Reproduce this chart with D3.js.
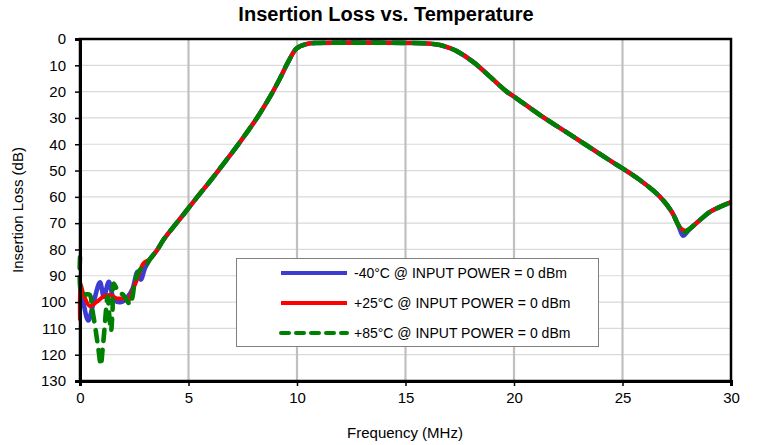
<!DOCTYPE html>
<html>
<head>
<meta charset="utf-8">
<script src="https://cdn.jsdelivr.net/npm/d3@7"></script>
<style>
  html, body { margin: 0; padding: 0; background: #fff; }
  svg { display: block; font-family: "Liberation Sans", Arial, sans-serif; }
</style>
</head>
<body>
<svg id="chart" width="758" height="445"></svg>
<script>
// ---- Data ----
const xTicks = [0, 5, 10, 15, 20, 25, 30];
const yTicks = [0, 10, 20, 30, 40, 50, 60, 70, 80, 90, 100, 110, 120, 130];

// shared smooth part of the response (frequency MHz, insertion loss dB)
const mainFreq = [3.23, 3.53, 3.84, 4.3, 4.76, 5.38, 6.0, 6.45, 7.0, 7.37, 8.14, 8.76, 9.22, 9.6, 9.98, 10.45, 11, 12, 13, 14, 15, 16, 16.59, 17.05, 17.36, 18.1, 18.89, 19.66, 20, 21.2, 22.73, 24.27, 25, 25.8, 26.73, 27.27, 27.57];
const mainLoss = [83.6, 80.5, 76.4, 71.5, 66.8, 60.3, 54, 49.2, 43.3, 39.2, 30.2, 21.9, 14.9, 8.6, 3.6, 1.9, 1.5, 1.4, 1.4, 1.4, 1.5, 1.7, 2.3, 3.5, 4.6, 8.6, 14.3, 20, 21.9, 28.9, 37.1, 45.4, 49.2, 53.6, 60, 65.7, 70.7];

// tail after the notch
const tailFreq = [28.57, 29.03, 29.49, 30];
const tailLoss = [68.8, 65.7, 63.8, 62];

// low-frequency (noisy) part per temperature
const lowFreqM40 = [0, 0.1, 0.38, 0.6, 0.92, 1.1, 1.33, 1.58, 1.9, 2.2, 2.42, 2.65, 2.8, 3.0];
const lowLossM40 = [95, 98, 107, 101, 92.5, 98, 92.3, 99.2, 100, 98, 95, 88.5, 91.5, 87];
const lowFreqP25 = [0, 0.02, 0.15, 0.45, 0.77, 1.07, 1.38, 1.69, 2.0, 2.23, 2.4, 2.62, 2.92];
const lowLossP25 = [107, 93, 96.7, 101.5, 99.9, 98, 97.3, 98.6, 98.6, 99.5, 96, 91.6, 85.3];
const lowFreqP85 = [0, 0.05, 0.2, 0.45, 0.55, 0.7, 0.85, 0.96, 1.04, 1.12, 1.2, 1.27, 1.36, 1.43, 1.5, 1.55, 1.76, 1.99, 2.21, 2.3, 2.42, 2.53, 2.76, 2.99];
const lowLossP85 = [83, 96, 97, 97.3, 102, 109.5, 118, 124, 118, 111, 103, 98, 106, 111, 103, 93, 96, 97.3, 100, 101, 98, 92.3, 87.8, 86.6];

// notch region per temperature
const notchFreqM40 = [27.8, 28.03];
const notchLossM40 = [74.8, 72.8];
const notchFreqP25 = [27.85, 28.05];
const notchLossP25 = [72.8, 72.4];
const notchFreqP85 = [27.82, 28.03];
const notchLossP85 = [73.6, 72.6];

const seriesNames = ["-40°C @ INPUT POWER = 0 dBm", "+25°C @ INPUT POWER = 0 dBm", "+85°C @ INPUT POWER = 0 dBm"];
const seriesColors = ["#3c3cd2", "#ff0000", "#008000"];

function build(lf, ll, nf, nl) {
  const f = lf.concat(mainFreq, nf, tailFreq);
  const l = ll.concat(mainLoss, nl, tailLoss);
  return f.map((v, i) => ({ f: v, db: l[i] }));
}
const series = [
  build(lowFreqM40, lowLossM40, notchFreqM40, notchLossM40),
  build(lowFreqP25, lowLossP25, notchFreqP25, notchLossP25),
  build(lowFreqP85, lowLossP85, notchFreqP85, notchLossP85)
];

// ---- Layout ----
const svg = d3.select("#chart");
const L = 80, R = 731, T = 39, B = 381;
const x = d3.scaleLinear().domain([0, 30]).range([L, R]);
const y = d3.scaleLinear().domain([0, 130]).range([T, B]);

// horizontal grid
svg.append("g").selectAll("line").data(yTicks.slice(1, -1)).join("line")
  .attr("x1", L).attr("x2", R).attr("y1", d => y(d)).attr("y2", d => y(d))
  .attr("stroke", "#d9d9d9").attr("stroke-width", 1.2);
// vertical grid
svg.append("g").selectAll("line").data(xTicks.slice(1, -1)).join("line")
  .attr("y1", T).attr("y2", B).attr("x1", d => x(d)).attr("x2", d => x(d))
  .attr("stroke", "#c0c0c0").attr("stroke-width", 2.2);

// lines
const line = d3.line().x(d => x(d.f)).y(d => y(d.db)).curve(d3.curveCatmullRom.alpha(0.5));
const widths = [4.6, 4, 4.6];
series.forEach((s, i) => {
  const p = svg.append("path").datum(s).attr("d", line)
    .attr("fill", "none").attr("stroke", seriesColors[i])
    .attr("stroke-width", widths[i]).attr("stroke-linejoin", "round");
  if (i === 2) p.attr("stroke-dasharray", "11,9").attr("stroke-linecap", "round");
});

// frame
svg.append("rect").attr("x", L).attr("y", T).attr("width", R - L).attr("height", B - T)
  .attr("fill", "none").attr("stroke", "#000").attr("stroke-width", 2.5);

// axes
const xAxis = d3.axisBottom(x).tickValues(xTicks).tickSize(5).tickPadding(6);
const gx = svg.append("g").attr("transform", `translate(0,${B})`).call(xAxis);
gx.select(".domain").attr("stroke-width", 3);
gx.selectAll(".tick line").attr("stroke-width", 1.5);
gx.selectAll("text").attr("font-size", 15).attr("fill", "#000").attr("font-family", "Liberation Sans, Arial, sans-serif");

const yAxis = d3.axisLeft(y).tickValues(yTicks).tickSize(5).tickPadding(9);
const gy = svg.append("g").attr("transform", `translate(${L},0)`).call(yAxis);
gy.select(".domain").attr("stroke-width", 3);
gy.selectAll(".tick line").attr("stroke-width", 1.5);
gy.selectAll("text").attr("font-size", 15).attr("fill", "#000").attr("font-family", "Liberation Sans, Arial, sans-serif");

// title and axis labels
svg.append("text").attr("x", 386).attr("y", 21).attr("text-anchor", "middle")
  .attr("font-size", 20).attr("font-weight", "bold").text("Insertion Loss vs. Temperature");
svg.append("text").attr("x", 405).attr("y", 438).attr("text-anchor", "middle")
  .attr("font-size", 15).text("Frequency (MHz)");
svg.append("text").attr("transform", "translate(23,210) rotate(-90)").attr("text-anchor", "middle")
  .attr("font-size", 15).text("Insertion Loss (dB)");

// legend
const lg = svg.append("g");
lg.append("rect").attr("x", 236.5).attr("y", 258.5).attr("width", 362).attr("height", 88)
  .attr("fill", "#fff").attr("stroke", "#808080").attr("stroke-width", 1);
seriesNames.forEach((n, i) => {
  const yy = 273 + i * 30;
  const l = lg.append("line").attr("x1", 281).attr("x2", 347).attr("y1", yy).attr("y2", yy)
    .attr("stroke", seriesColors[i]).attr("stroke-width", 4);
  if (i === 2) l.attr("stroke-dasharray", "8,7").attr("stroke-linecap", "round");
  lg.append("text").attr("x", 354).attr("y", yy + 5).attr("font-size", 14).text(n);
});
</script>
</body>
</html>
